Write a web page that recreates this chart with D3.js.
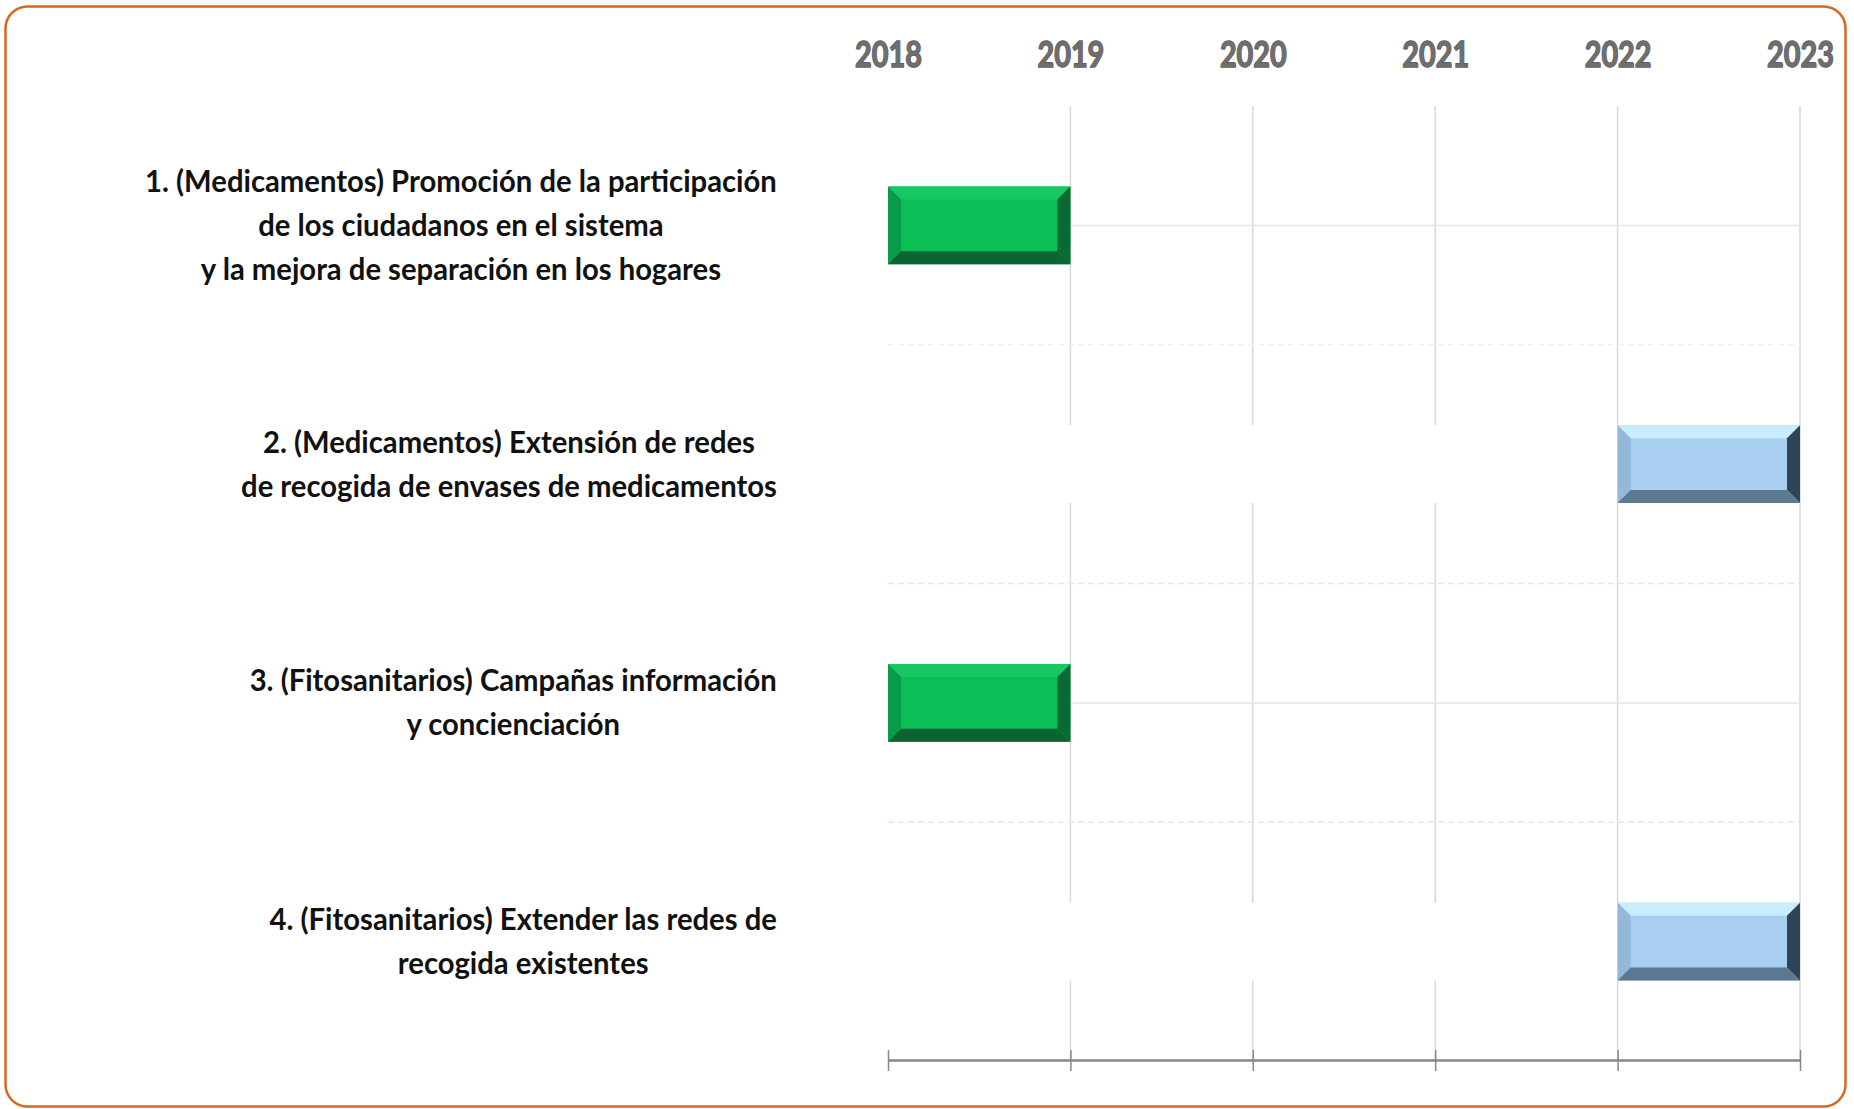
<!DOCTYPE html>
<html>
<head>
<meta charset="utf-8">
<script src="https://cdn.jsdelivr.net/npm/d3@7"></script>
<style>
  html, body { margin: 0; padding: 0; background: #fff; }
  svg { display: block; }
  .yr, .lbl { font-family: Lato, "DejaVu Sans Condensed", sans-serif; font-weight: bold; }
</style>
</head>
<body>
<div id="chart"></div>
<script>
const years = [2018, 2019, 2020, 2021, 2022, 2023];

const tasks = [
  ['1. (Medicamentos) Promoción de la participación', 'de los ciudadanos en el sistema', 'y la mejora de separación en los hogares'],
  ['2. (Medicamentos) Extensión de redes', 'de recogida de envases de medicamentos'],
  ['3. (Fitosanitarios) Campañas información', 'y concienciación'],
  ['4. (Fitosanitarios) Extender las redes de', 'recogida existentes']
];
const startYear = [2018, 2022, 2018, 2022];
const endYear = [2019, 2023, 2019, 2023];
const phase = ['inicio', 'final', 'inicio', 'final'];

const width = 1854,
  height = 1109;

// bevel colours per phase
const bevel = {
  inicio: { main: '#0bbe55', top: '#17c862', left: '#0a9c48', right: '#0a6a34', bottom: '#0b6533' },
  final: { main: '#a8cef0', top: '#c9ecff', left: '#93b8da', right: '#2e4457', bottom: '#5b7992' }
};

const svg = d3.select('#chart')
  .append('svg')
  .attr('width', width)
  .attr('height', height);

// outer frame
svg.append('rect')
  .attr('x', 5.5).attr('y', 6.5)
  .attr('width', 1840).attr('height', 1100)
  .attr('rx', 22).attr('ry', 22)
  .attr('fill', '#fff')
  .attr('stroke', '#d46a22')
  .attr('stroke-width', 2.5);

const x = d3.scaleLinear()
  .domain(d3.extent(years))
  .range([888, 1800]);

const y = d3.scaleBand()
  .domain(d3.range(tasks.length))
  .range([106, 1061])
  .paddingInner(0.674)
  .paddingOuter(0.337);

const plotTop = 106, plotBottom = 1060;

// vertical gridlines
svg.append('g')
  .selectAll('line')
  .data(years.slice(1))
  .enter().append('line')
  .attr('x1', d => x(d)).attr('x2', d => x(d))
  .attr('y1', plotTop).attr('y2', plotBottom)
  .attr('stroke', '#d9d9d9')
  .attr('stroke-width', 1.5);

// dashed separators between rows
svg.append('g')
  .selectAll('line')
  .data(d3.range(1, tasks.length))
  .enter().append('line')
  .attr('x1', x(2018)).attr('x2', x(2023))
  .attr('y1', d => y(d) - y.step() * y.paddingInner() / 2)
  .attr('y2', d => y(d) - y.step() * y.paddingInner() / 2)
  .attr('stroke', (d, i) => i === 0 ? '#f0f2f4' : '#dce9f4')
  .attr('stroke-width', 1.5)
  .attr('stroke-dasharray', '6,4');

const rows = svg.append('g')
  .selectAll('g')
  .data(tasks.map((t, i) => ({ i, lines: t, s: startYear[i], e: endYear[i], p: phase[i] })))
  .enter().append('g');

// hidden leading segment (white) and trailing guide line
rows.filter(d => d.s > years[0])
  .append('rect')
  .attr('x', x(years[0]))
  .attr('y', d => y(d.i))
  .attr('width', d => x(d.s) - x(years[0]))
  .attr('height', y.bandwidth())
  .attr('fill', '#fff');

rows.filter(d => d.e < years[years.length - 1])
  .append('line')
  .attr('x1', d => x(d.e))
  .attr('x2', x(years[years.length - 1]))
  .attr('y1', d => y(d.i) + y.bandwidth() / 2)
  .attr('y2', d => y(d.i) + y.bandwidth() / 2)
  .attr('stroke', '#e6e6e6')
  .attr('stroke-width', 1.5);

// bevelled bars
const b = 13;
rows.each(function(d) {
  const g = d3.select(this);
  const x0 = x(d.s), x1 = x(d.e), y0 = y(d.i), y1 = y0 + y.bandwidth();
  const c = bevel[d.p];
  const pts = {
    top: [[x0, y0], [x1, y0], [x1 - b, y0 + b], [x0 + b, y0 + b]],
    left: [[x0, y0], [x0 + b, y0 + b], [x0 + b, y1 - b], [x0, y1]],
    right: [[x1, y0], [x1, y1], [x1 - b, y1 - b], [x1 - b, y0 + b]],
    bottom: [[x0, y1], [x0 + b, y1 - b], [x1 - b, y1 - b], [x1, y1]]
  };
  g.append('rect')
    .attr('x', x0).attr('y', y0)
    .attr('width', x1 - x0).attr('height', y1 - y0)
    .attr('fill', c.main);
  Object.keys(pts).forEach(k => {
    g.append('polygon')
      .attr('points', pts[k].map(p => p.join(',')).join(' '))
      .attr('fill', c[k]);
  });
});

// task labels: block right-aligned, lines centred within the block
// (text squeezed horizontally to mimic the narrow original font)
const labelRight = 777, lineH = 44, sxLbl = 0.975;
rows.each(function(d) {
  const g = d3.select(this).append('g');
  const cy = y(d.i) + y.bandwidth() / 2;
  const n = d.lines.length;
  const t = g.selectAll('text')
    .data(d.lines)
    .enter().append('text')
    .attr('class', 'lbl')
    .attr('x', 0)
    .attr('y', (l, j) => cy + (j - (n - 1) / 2) * lineH)
    .attr('dy', '0.35em')
    .attr('text-anchor', 'middle')
    .style('font-size', '30px')
    .style('fill', '#111')
    .text(l => l);
  let maxW = 0;
  t.each(function() { maxW = Math.max(maxW, this.getComputedTextLength()); });
  g.attr('transform', 'translate(' + (labelRight - maxW * sxLbl / 2) + ',0) scale(' + sxLbl + ',1)');
});

// top year labels
const topAxis = svg.append('g')
  .attr('transform', 'translate(0,67)')
  .call(d3.axisTop(x).tickValues(years).tickFormat(d3.format('d')).tickSize(0).tickPadding(0));
topAxis.select('.domain').remove();
topAxis.selectAll('text')
  .attr('class', 'yr')
  .attr('dy', 0)
  .attr('transform', 'scale(0.8,1)')
  .style('font-size', '36px')
  .style('fill', '#6e6e6e')
  .style('stroke', '#595959')
  .style('stroke-width', '1.4px')
  .style('paint-order', 'stroke');

// bottom axis with crossing ticks
const bottomAxis = svg.append('g')
  .attr('transform', 'translate(0,' + plotBottom + ')')
  .call(d3.axisBottom(x).tickValues(years).tickFormat('').tickSizeOuter(0));
bottomAxis.select('.domain')
  .attr('stroke', '#878787')
  .attr('stroke-width', 2.5);
bottomAxis.selectAll('.tick line')
  .attr('y1', -10).attr('y2', 11)
  .attr('stroke', '#878787')
  .attr('stroke-width', 1.5);
</script>
</body>
</html>
